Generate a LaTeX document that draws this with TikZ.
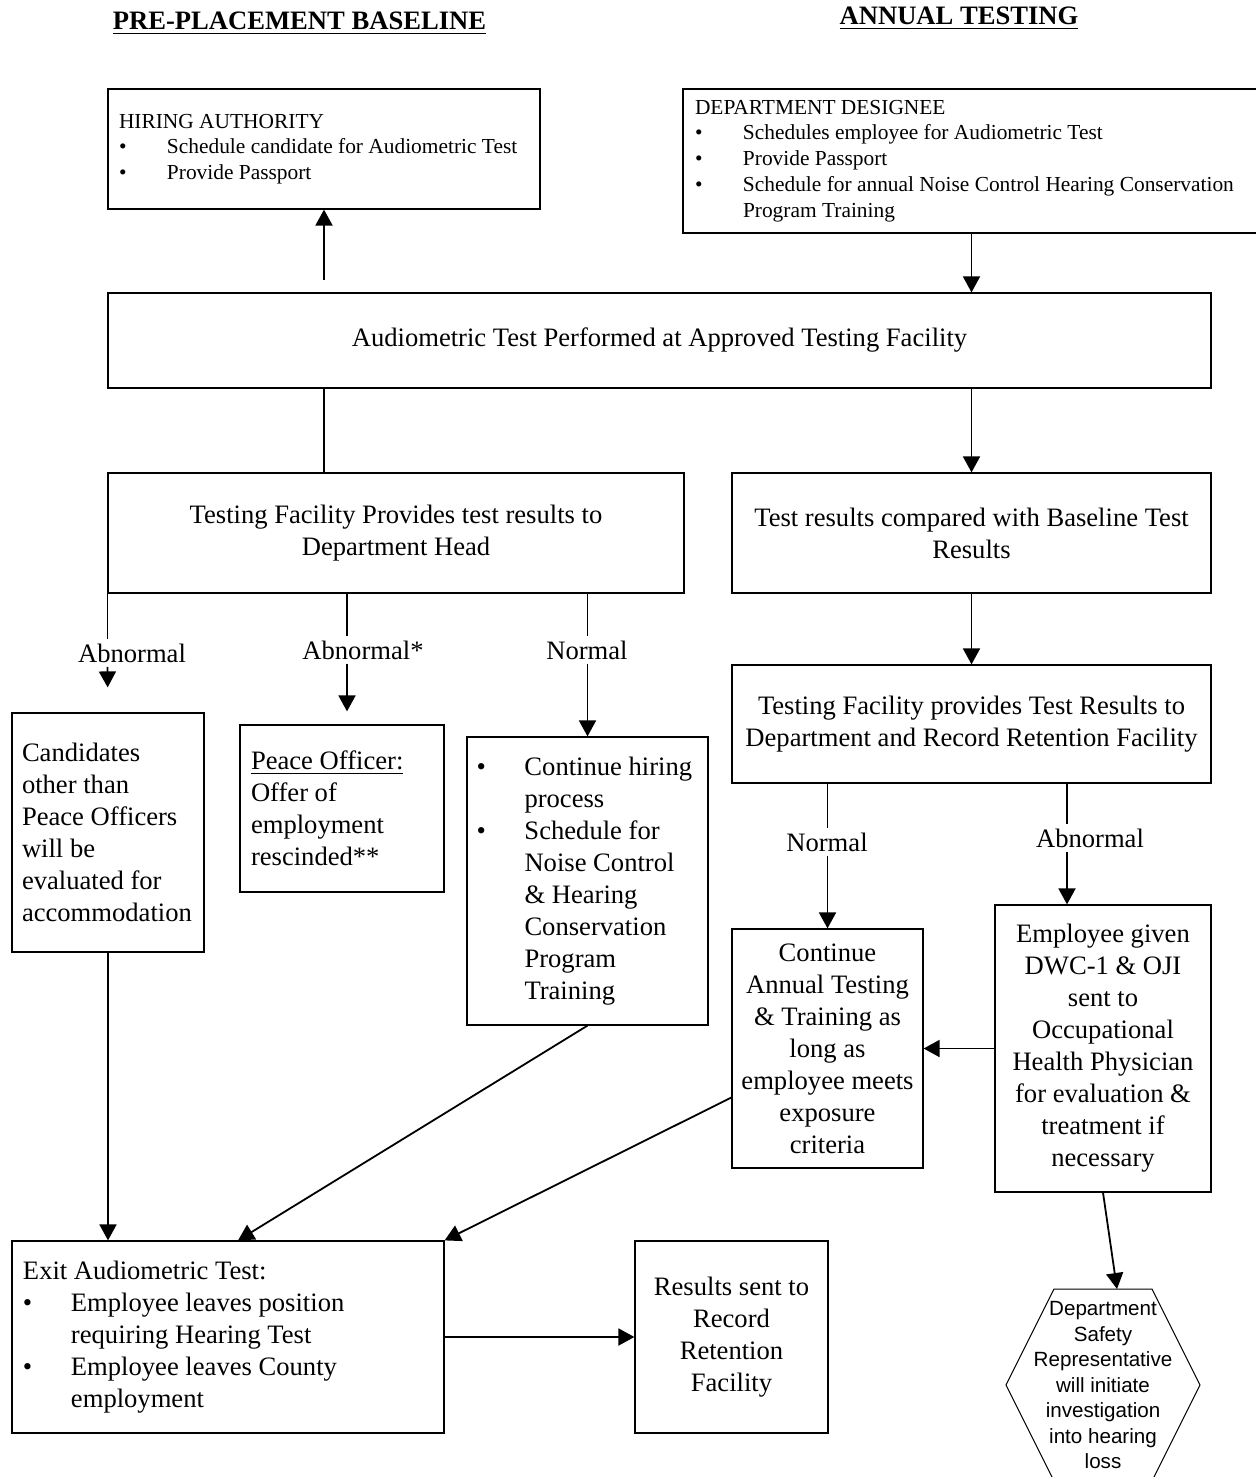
\documentclass[tikz,border=0pt]{standalone}
\usepackage{fontspec}
\setmainfont{Liberation Serif}
\setsansfont{Liberation Sans}
\usetikzlibrary{positioning, arrows.meta, calc}
\hyphenpenalty=10000
\newcommand{\bul}{\makebox[24pt][l]{\textbullet}}
\newcommand{\ind}{\hspace*{24pt}}

\begin{document}
\begin{tikzpicture}[
    x=0.5pt, y=-0.5pt,
    every node/.style={font=\fontsize{13.3}{16}\selectfont},
    box/.style={
        draw,
        line width=0.6pt,
        inner sep=0pt,
    },
    centerbox/.style={
        box,
        align=center,
    },
    leftbox/.style={
        box,
        align=flush left,
        inner xsep=5.5pt,
    },
    smallbox/.style={
        leftbox,
        font=\fontsize{10.7}{12.9}\selectfont,
    },
    lbl/.style={
        inner sep=2pt,
    },
    heading/.style={
        font=\fontsize{13.3}{16}\selectfont\bfseries,
        anchor=base,
    },
    arr/.style={
        -{Triangle[length=8pt, width=8.5pt]},
        line width=0.9pt,
    },
    link/.style={
        line width=0.9pt,
    },
]
\useasboundingbox (0,0) rectangle (1256,1477);

% ===== Titulos =====
\node[heading] (ttlpre) at (299.5,30) {\underline{PRE-PLACEMENT BASELINE}};
\node[heading] (ttlann) at (959,25) {\underline{ANNUAL TESTING}};

% ===== Fila superior =====
\node[smallbox, text width=205pt, minimum height=60pt] (hiring) at (324,149) {
    HIRING AUTHORITY\\
    \bul Schedule candidate for Audiometric Test\\
    \bul Provide Passport
};

\node[smallbox, text width=281.5pt, inner xsep=6pt, minimum height=72pt] (designee) at (976.5,161) {
    DEPARTMENT DESIGNEE\\
    \bul Schedules employee for Audiometric Test\\
    \bul Provide Passport\\
    \bul Schedule for annual Noise Control Hearing Conservation\\
    \ind Program Training
};

\node[centerbox, minimum width=551.5pt, minimum height=47.5pt] (main) at (659.5,340.5)
    {Audiometric Test Performed at Approved Testing Facility};

% ===== Resultados =====
\node[centerbox, minimum width=288pt, minimum height=60pt] (tf) at (396,533)
    {Testing Facility Provides test results to\\ Department Head};

\node[centerbox, minimum width=239.5pt, minimum height=60pt] (cmp) at (971.5,533)
    {Test results compared with Baseline Test\\ Results};

\node[centerbox, minimum width=239.5pt, minimum height=59pt] (tfp) at (971.5,724)
    {Testing Facility provides Test Results to\\ Department and Record Retention Facility};

% ===== Pre-placement =====
\node[leftbox, text width=86pt, inner xsep=5pt, minimum height=119.5pt] (cand) at (108,832.5) {
    Candidates\\
    other than\\
    Peace Officers\\
    will be\\
    evaluated for\\
    accommodation
};

\node[leftbox, text width=91pt, minimum height=83.5pt] (peace) at (342,808.5) {
    \underline{Peace Officer:}\\
    Offer of\\
    employment\\
    rescinded**
};

\node[leftbox, text width=111pt, inner xsep=4.75pt, minimum height=144pt] (cont) at (587.5,881) {
    \bul Continue hiring\\
    \ind process\\
    \bul Schedule for\\
    \ind Noise Control\\
    \ind \& Hearing\\
    \ind Conservation\\
    \ind Program\\
    \ind Training
};

% ===== Annual =====
\node[centerbox, minimum width=95.5pt, minimum height=119.5pt] (contann) at (827.5,1048.5)
    {Continue\\ Annual Testing\\ \& Training as\\ long as\\ employee meets\\ exposure\\ criteria};

\node[centerbox, minimum width=108pt, minimum height=143.5pt] (emp) at (1103,1048.5)
    {Employee given\\ DWC-1 \& OJI\\ sent to\\ Occupational\\ Health Physician\\ for evaluation \&\\ treatment if\\ necessary};

\node[align=center, inner sep=0pt, font=\sffamily\fontsize{10.3}{12.75}\selectfont] (hexa) at (1103,1385)
    {Department\\ Safety\\ Representative\\ will initiate\\ investigation\\ into hearing\\ loss};
\draw[line width=0.5pt] ($(hexa)+(-49,-96)$) -- ($(hexa)+(49,-96)$) -- ($(hexa)+(97,0)$)
    -- ($(hexa)+(49,96)$) -- ($(hexa)+(-49,96)$) -- ($(hexa)+(-97,0)$) -- cycle;
\coordinate (hextop) at ($(hexa)+(14,-96)$);

% ===== Fila inferior =====
\node[leftbox, text width=205pt, minimum height=96pt] (exit) at (228,1337) {
    Exit Audiometric Test:\\
    \bul Employee leaves position\\
    \ind requiring Hearing Test\\
    \bul Employee leaves County\\
    \ind employment
};

\node[centerbox, minimum width=96.5pt, minimum height=96pt] (results) at (731.5,1337)
    {Results sent to\\ Record\\ Retention\\ Facility};

% ===== Etiquetas =====
\node[lbl] (abnA) at (132,653) {Abnormal};
\node[lbl] (abnB) at (363,650) {Abnormal*};
\node[lbl] (normA) at (587,650) {Normal};
\node[lbl] (normB) at (827,842) {Normal};
\node[lbl] (abnC) at (1090,838) {Abnormal};

% ===== Conexiones superiores =====
\coordinate (hirefoot) at ([yshift=6pt]main.north -| hiring);
\draw[arr] (hirefoot) -- (hiring.south);
\draw[arr] (designee.south -| cmp) -- (main.north -| cmp);
\draw[link] (main.south -| hiring) -- (tf.north -| hiring);
\draw[arr] (main.south -| cmp) -- (cmp.north);
\draw[arr] (cmp.south) -- (tfp.north);

% ===== Ramas pre-placement =====
\coordinate (peacetop) at ([xshift=2.5pt]peace.north);
\draw[link] (tf.south west) -- (abnA.north -| tf.west);
\draw[arr, shorten >=12.5pt] (abnA.south -| tf.west) -- (cand.north);
\draw[link] (tf.south -| peacetop) -- (abnB.north -| peacetop);
\draw[arr, shorten >=6.5pt] (abnB.south -| peacetop) -- (peacetop);
\draw[link] (tf.south -| cont) -- (normA.north -| cont);
\draw[arr] (normA.south -| cont) -- (cont.north);

% ===== Ramas annual =====
\coordinate (emptop) at ([xshift=-18pt]emp.north);
\draw[link] (tfp.south -| contann) -- (normB.north -| contann);
\draw[arr] (normB.south -| contann) -- (contann.north);
\draw[link] (tfp.south -| emptop) -- (abnC.north -| emptop);
\draw[arr] (abnC.south -| emptop) -- (emptop);
\draw[arr] (emp.west) -- (contann.east);
\draw[arr] (emp.south) -- (hextop);

% ===== Salida =====
\draw[arr] (cand.south) -- (exit.north -| cand);
\draw[arr] (cont.south) -- ([xshift=5pt]exit.north);
\draw[arr] ([yshift=-24.5pt]contann.west) -- (exit.north east);
\draw[arr] (exit.east) -- (results.west);

\end{tikzpicture}
\end{document}
